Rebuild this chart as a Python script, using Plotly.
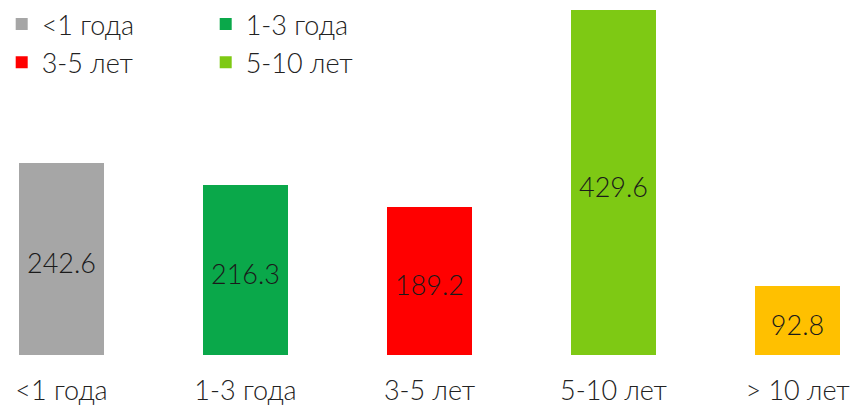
import plotly.graph_objects as go

categories = ["<1 года", "1-3 года", "3-5 лет", "5-10 лет", "> 10 лет"]
values = [242.6, 216.3, 189.2, 429.6, 92.8]
colors = ["#a6a6a6", "#0aa84a", "#ff0000", "#7ec914", "#ffc000"]
in_legend = [True, True, True, True, False]
legend_ids = ["legend", "legend2", "legend", "legend2", "legend"]

FONT = "Lato Light, Lato"
TEXT_SIZE = 27

fig = go.Figure()
for cat, val, col, show, lg in zip(categories, values, colors, in_legend, legend_ids):
    fig.add_trace(go.Bar(
        x=[cat], y=[val], name=cat, width=0.462,
        marker={"color": col, "line": {"width": 0}},
        text=[f"{val:.1f}"], textposition="inside", insidetextanchor="middle",
        textangle=0, constraintext="none",
        textfont={"family": FONT, "size": TEXT_SIZE, "color": "#1a1a1a", "weight": 300},
        showlegend=show, legend=lg, hoverinfo="skip",
    ))

legend_style = dict(
    orientation="v", yanchor="top", xanchor="left",
    font={"family": FONT, "size": TEXT_SIZE, "color": "#222222", "weight": 300},
    bgcolor="rgba(0,0,0,0)", tracegroupgap=0,
)

fig.update_layout(
    width=850, height=406,
    margin={"l": 0, "r": 0, "t": 0, "b": 49},
    paper_bgcolor="white", plot_bgcolor="white",
    barmode="overlay", bargap=0,
    showlegend=True,
    legend={**legend_style, "x": 0.002, "y": 1.006},
    legend2={**legend_style, "x": 0.242, "y": 1.006},
    xaxis={
        "type": "category", "categoryorder": "array", "categoryarray": categories,
        "range": [-0.334, 4.285], "showgrid": False, "showline": False,
        "zeroline": False, "ticks": "", "ticklabelstandoff": 17,
        "tickfont": {"family": FONT, "size": TEXT_SIZE, "color": "#222222", "weight": 300},
    },
    yaxis={"visible": False, "range": [8.3, 439.3], "showgrid": False},
)

# page has a default 8px body margin; drop it so the figure fills the window
fig.write_html(
    "out.html",
    config={"displayModeBar": False},
    post_script="document.body.style.margin = '0';",
)
